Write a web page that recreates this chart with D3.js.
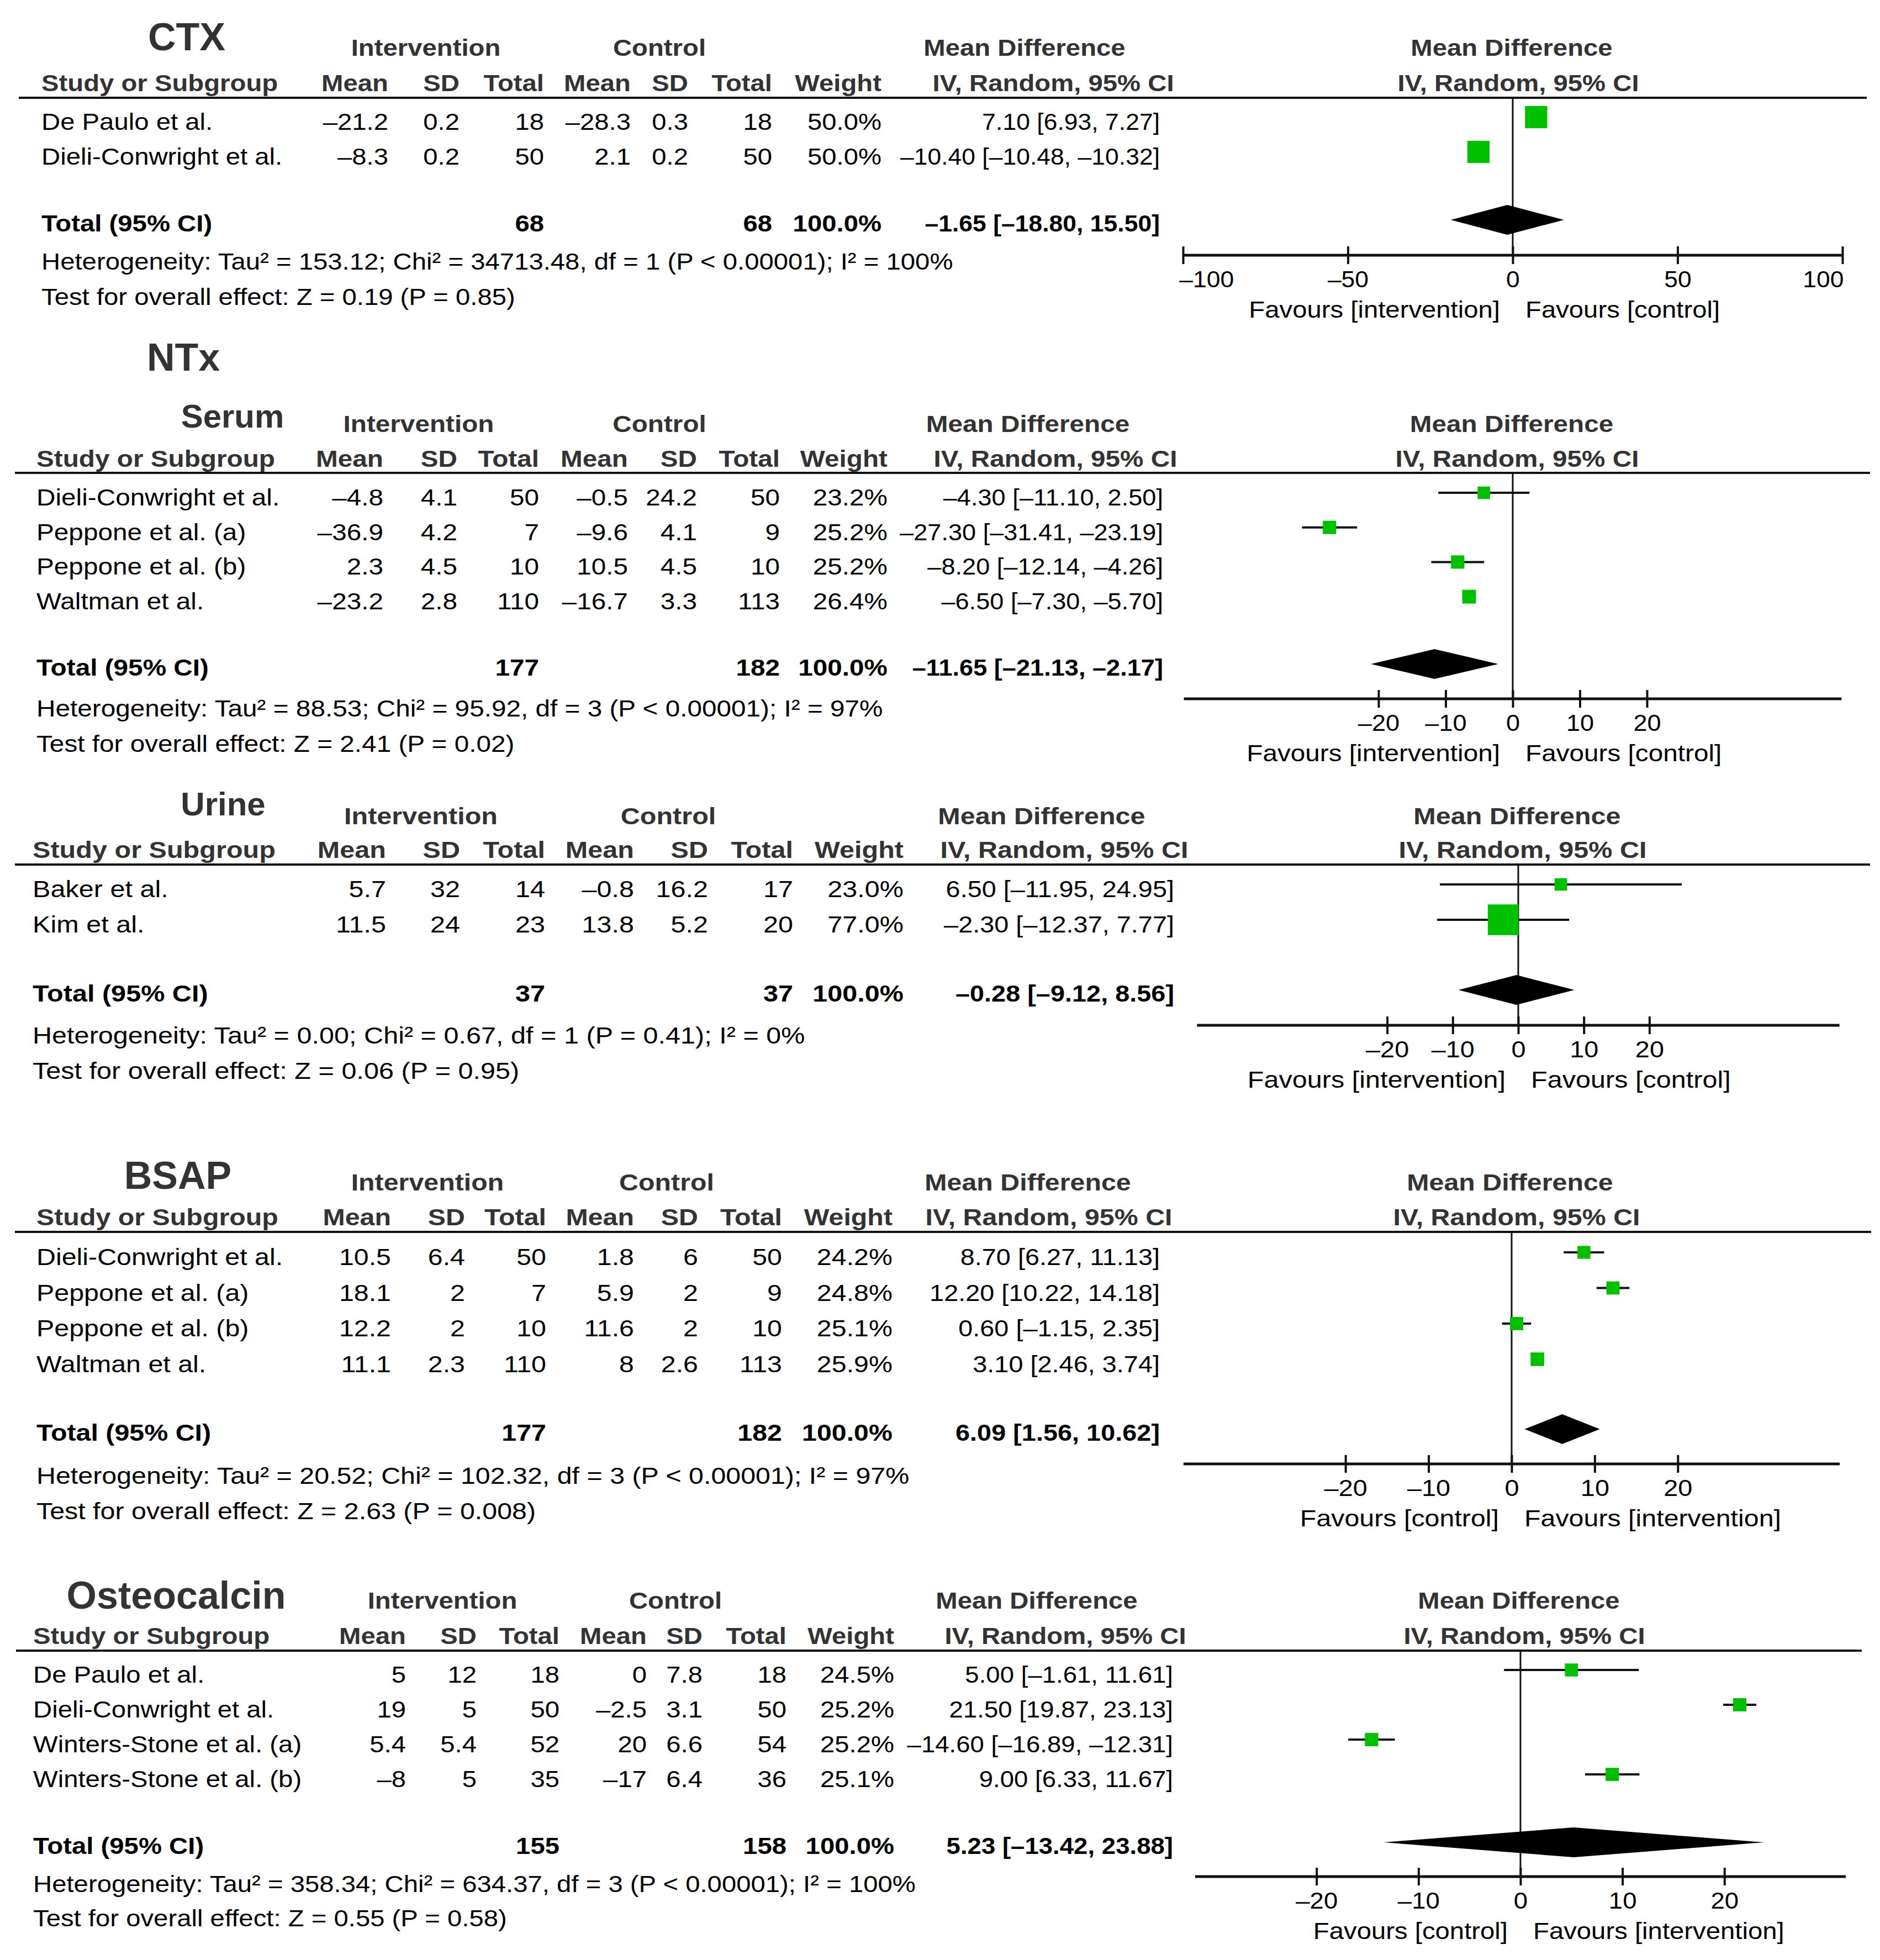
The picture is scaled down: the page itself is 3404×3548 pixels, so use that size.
<!DOCTYPE html>
<html>
<head>
<meta charset="utf-8">
<script src="https://cdn.jsdelivr.net/npm/d3@7"></script>
<style>
  body { margin: 0; background: #fff; }
  text { font-family: "Liberation Sans", Arial, sans-serif; }
</style>
</head>
<body>
<div id="chart"></div>
<script>
// ---- data ----
const ctxRows = [
  { study: 'De Paulo et al.', iMean: -21.2, iSD: 0.2, iN: 18, cMean: -28.3, cSD: 0.3, cN: 18, weight: 50.0, md: 7.10, lo: 6.93, hi: 7.27 },
  { study: 'Dieli-Conwright et al.', iMean: -8.3, iSD: 0.2, iN: 50, cMean: 2.1, cSD: 0.2, cN: 50, weight: 50.0, md: -10.40, lo: -10.48, hi: -10.32 }
]
const ctxTotal = { iN: 68, cN: 68, md: -1.65, lo: -18.80, hi: 15.50 }
const ctxStats = { tau2: '153.12', chi2: '34713.48', df: 1, p: '< 0.00001', i2: '100%', z: '0.19', pz: '0.85' }

const serumRows = [
  { study: 'Dieli-Conwright et al.', iMean: -4.8, iSD: 4.1, iN: 50, cMean: -0.5, cSD: 24.2, cN: 50, weight: 23.2, md: -4.30, lo: -11.10, hi: 2.50 },
  { study: 'Peppone et al. (a)', iMean: -36.9, iSD: 4.2, iN: 7, cMean: -9.6, cSD: 4.1, cN: 9, weight: 25.2, md: -27.30, lo: -31.41, hi: -23.19 },
  { study: 'Peppone et al. (b)', iMean: 2.3, iSD: 4.5, iN: 10, cMean: 10.5, cSD: 4.5, cN: 10, weight: 25.2, md: -8.20, lo: -12.14, hi: -4.26 },
  { study: 'Waltman et al.', iMean: -23.2, iSD: 2.8, iN: 110, cMean: -16.7, cSD: 3.3, cN: 113, weight: 26.4, md: -6.50, lo: -7.30, hi: -5.70 }
]
const serumTotal = { iN: 177, cN: 182, md: -11.65, lo: -21.13, hi: -2.17 }
const serumStats = { tau2: '88.53', chi2: '95.92', df: 3, p: '< 0.00001', i2: '97%', z: '2.41', pz: '0.02' }

const urineRows = [
  { study: 'Baker et al.', iMean: 5.7, iSD: 32, iN: 14, cMean: -0.8, cSD: 16.2, cN: 17, weight: 23.0, md: 6.50, lo: -11.95, hi: 24.95 },
  { study: 'Kim et al.', iMean: 11.5, iSD: 24, iN: 23, cMean: 13.8, cSD: 5.2, cN: 20, weight: 77.0, md: -2.30, lo: -12.37, hi: 7.77 }
]
const urineTotal = { iN: 37, cN: 37, md: -0.28, lo: -9.12, hi: 8.56 }
const urineStats = { tau2: '0.00', chi2: '0.67', df: 1, p: '= 0.41', i2: '0%', z: '0.06', pz: '0.95' }

const bsapRows = [
  { study: 'Dieli-Conwright et al.', iMean: 10.5, iSD: 6.4, iN: 50, cMean: 1.8, cSD: 6, cN: 50, weight: 24.2, md: 8.70, lo: 6.27, hi: 11.13 },
  { study: 'Peppone et al. (a)', iMean: 18.1, iSD: 2, iN: 7, cMean: 5.9, cSD: 2, cN: 9, weight: 24.8, md: 12.20, lo: 10.22, hi: 14.18 },
  { study: 'Peppone et al. (b)', iMean: 12.2, iSD: 2, iN: 10, cMean: 11.6, cSD: 2, cN: 10, weight: 25.1, md: 0.60, lo: -1.15, hi: 2.35 },
  { study: 'Waltman et al.', iMean: 11.1, iSD: 2.3, iN: 110, cMean: 8, cSD: 2.6, cN: 113, weight: 25.9, md: 3.10, lo: 2.46, hi: 3.74 }
]
const bsapTotal = { iN: 177, cN: 182, md: 6.09, lo: 1.56, hi: 10.62 }
const bsapStats = { tau2: '20.52', chi2: '102.32', df: 3, p: '< 0.00001', i2: '97%', z: '2.63', pz: '0.008' }

const osteoRows = [
  { study: 'De Paulo et al.', iMean: 5, iSD: 12, iN: 18, cMean: 0, cSD: 7.8, cN: 18, weight: 24.5, md: 5.00, lo: -1.61, hi: 11.61 },
  { study: 'Dieli-Conwright et al.', iMean: 19, iSD: 5, iN: 50, cMean: -2.5, cSD: 3.1, cN: 50, weight: 25.2, md: 21.50, lo: 19.87, hi: 23.13 },
  { study: 'Winters-Stone et al. (a)', iMean: 5.4, iSD: 5.4, iN: 52, cMean: 20, cSD: 6.6, cN: 54, weight: 25.2, md: -14.60, lo: -16.89, hi: -12.31 },
  { study: 'Winters-Stone et al. (b)', iMean: -8, iSD: 5, iN: 35, cMean: -17, cSD: 6.4, cN: 36, weight: 25.1, md: 9.00, lo: 6.33, hi: 11.67 }
]
const osteoTotal = { iN: 155, cN: 158, md: 5.23, lo: -13.42, hi: 23.88 }
const osteoStats = { tau2: '358.34', chi2: '634.37', df: 3, p: '< 0.00001', i2: '100%', z: '0.55', pz: '0.58' }

const ticks100 = [-100, -50, 0, 50, 100]
const ticks20 = [-20, -10, 0, 10, 20]
const favoursIC = ['Favours [intervention]', 'Favours [control]']
const favoursCI = ['Favours [control]', 'Favours [intervention]']

// ---- layout (one block per pasted panel; each was pasted at its own scale) ----
const layouts = [
  { rows: ctxRows, total: ctxTotal, stats: ctxStats, ticks: ticks100, favours: favoursIC,
    sx: 1.10, nsx: 1.035,
    titles: [{ text: 'CTX', x: 338, y: 91, size: 70 }],
    groupY: 101, colY: 165, L: 177, lineX: [34, 3380],
    studyX: 75, cols: [703, 832, 985, 1142, 1246, 1398, 1596, 2100],
    hx: { int: 771, ctl: 1194, md: 1855, iv: 1907, pmd: 2737, piv: 2749 },
    rowY0: 212, rowStep: 63, totalY: 398, hetY: 488, testY: 552,
    axisY: 462, domain: [-100, 100], range: [2142, 3336] },
  { rows: serumRows, total: serumTotal, stats: serumStats, ticks: ticks20, favours: favoursIC,
    sx: 1.11, nsx: 1.05,
    titles: [{ text: 'NTx', x: 332, y: 671, size: 70 }, { text: 'Serum', x: 421, y: 774, size: 60 }],
    groupY: 782, colY: 845, L: 856, lineX: [27, 3386],
    studyX: 66, cols: [694, 828, 976, 1137, 1262, 1412, 1607, 2106],
    hx: { int: 758, ctl: 1194, md: 1861, iv: 1911, pmd: 2737, piv: 2747 },
    rowY0: 892, rowStep: 62.7, totalY: 1202, hetY: 1297, testY: 1361,
    axisY: 1265, domain: [-49, 49], range: [2143.6, 3334.4] },
  { rows: urineRows, total: urineTotal, stats: urineStats, ticks: ticks20, favours: favoursIC,
    sx: 1.13, nsx: 1.09,
    titles: [{ text: 'Urine', x: 404, y: 1476, size: 60 }],
    groupY: 1492, colY: 1553, L: 1565, lineX: [27, 3386],
    studyX: 59, cols: [699, 833, 987, 1148, 1282, 1436, 1636, 2126],
    hx: { int: 762, ctl: 1210, md: 1886, iv: 1927, pmd: 2747, piv: 2757 },
    rowY0: 1601, rowStep: 64, totalY: 1792, hetY: 1889, testY: 1953,
    axisY: 1856, domain: [-49, 49], range: [2167.4, 3330.6] },
  { rows: bsapRows, total: bsapTotal, stats: bsapStats, ticks: ticks20, favours: favoursCI,
    sx: 1.125, nsx: 1.09,
    titles: [{ text: 'BSAP', x: 322, y: 2152, size: 70 }],
    groupY: 2155, colY: 2218, L: 2230, lineX: [27, 3388],
    studyX: 66, cols: [708, 842, 989, 1148, 1264, 1416, 1616, 2100],
    hx: { int: 774, ctl: 1207, md: 1861, iv: 1899, pmd: 2734, piv: 2746 },
    rowY0: 2267, rowStep: 64.5, totalY: 2587, hetY: 2686, testY: 2750,
    axisY: 2650, domain: [-39.5, 39.5], range: [2142.9, 3331.1] },
  { rows: osteoRows, total: osteoTotal, stats: osteoStats, ticks: ticks20, favours: favoursCI,
    sx: 1.10, nsx: 1.06,
    titles: [{ text: 'Osteocalcin', x: 319, y: 2912, size: 70 }],
    groupY: 2912, colY: 2976, L: 2988, lineX: [29, 3371],
    studyX: 60, cols: [735, 863, 1013, 1171, 1272, 1424, 1619, 2124],
    hx: { int: 801, ctl: 1223, md: 1877, iv: 1929, pmd: 2750, piv: 2760 },
    rowY0: 3023, rowStep: 63, totalY: 3335, hetY: 3425, testY: 3487,
    axisY: 3397, domain: [-31.9, 31.9], range: [2164, 3342] }
]

const W = 3404, H = 3548
const HEAD = '#333'
const GREEN = '#00c000'

const num = v => String(v).replace('-', '\u2013')
const fix2 = v => v.toFixed(2).replace('-', '\u2013')
const ciText = d => `${fix2(d.md)} [${fix2(d.lo)}, ${fix2(d.hi)}]`

const svg = d3.select('#chart').append('svg')
  .attr('width', W).attr('height', H)
  .attr('viewBox', `0 0 ${W} ${H}`)
svg.append('rect').attr('width', W).attr('height', H).attr('fill', '#fff')

// the figure's text runs a little wider than Arial, so each label is stretched sideways
function txt(g, x, y, s, { anchor = 'start', bold = false, size = 43, fill = '#000', sx = 1.1 } = {}) {
  return g.append('text')
    .attr('transform', `translate(${x},${y}) scale(${sx},1)`)
    .attr('text-anchor', anchor)
    .attr('font-weight', bold ? 'bold' : 'normal')
    .attr('font-size', size)
    .attr('fill', fill)
    .text(s)
}

// square side grows with weight (sub-linear, like RevMan)
const boxSize = d3.scalePow().exponent(0.75).domain([0, 100]).range([0, 67.7])

function drawPanel(lay) {
  const g = svg.append('g')
  const { rows, total, stats, cols, hx, sx, nsx } = lay

  lay.titles.forEach(t => txt(g, t.x, t.y, t.text, { anchor: 'middle', bold: true, size: t.size, fill: HEAD, sx: 1 }))

  const head = (x, y, s, anchor = 'middle') => txt(g, x, y, s, { anchor, bold: true, fill: HEAD, sx })
  head(hx.int, lay.groupY, 'Intervention')
  head(hx.ctl, lay.groupY, 'Control')
  head(hx.md, lay.groupY, 'Mean Difference')
  head(hx.pmd, lay.groupY, 'Mean Difference')
  head(lay.studyX, lay.colY, 'Study or Subgroup', 'start')
  ;['Mean', 'SD', 'Total', 'Mean', 'SD', 'Total', 'Weight'].forEach((s, j) => head(cols[j], lay.colY, s, 'end'))
  head(hx.iv, lay.colY, 'IV, Random, 95% CI')
  head(hx.piv, lay.colY, 'IV, Random, 95% CI')

  g.append('line')
    .attr('x1', lay.lineX[0]).attr('x2', lay.lineX[1])
    .attr('y1', lay.L).attr('y2', lay.L)
    .attr('stroke', '#111').attr('stroke-width', 4)

  const rowY = i => lay.rowY0 + i * lay.rowStep

  rows.forEach((r, i) => {
    const ty = rowY(i) + 23
    txt(g, lay.studyX, ty, r.study, { sx })
    const vals = [num(r.iMean), num(r.iSD), r.iN, num(r.cMean), num(r.cSD), r.cN, r.weight.toFixed(1) + '%', ciText(r)]
    vals.forEach((v, j) => txt(g, cols[j], ty, v, { anchor: 'end', sx: j === 7 ? nsx : sx }))
  })

  const tty = lay.totalY + 21
  txt(g, lay.studyX, tty, 'Total (95% CI)', { bold: true, sx })
  txt(g, cols[2], tty, total.iN, { anchor: 'end', bold: true, sx })
  txt(g, cols[5], tty, total.cN, { anchor: 'end', bold: true, sx })
  txt(g, cols[6], tty, '100.0%', { anchor: 'end', bold: true, sx })
  txt(g, cols[7], tty, ciText(total), { anchor: 'end', bold: true, sx: nsx })

  txt(g, lay.studyX, lay.hetY,
    `Heterogeneity: Tau\u00b2 = ${stats.tau2}; Chi\u00b2 = ${stats.chi2}, df = ${stats.df} (P ${stats.p}); I\u00b2 = ${stats.i2}`, { sx })
  txt(g, lay.studyX, lay.testY, `Test for overall effect: Z = ${stats.z} (P = ${stats.pz})`, { sx })

  // forest plot
  const x = d3.scaleLinear().domain(lay.domain).range(lay.range)

  g.append('line')
    .attr('x1', x(0)).attr('x2', x(0))
    .attr('y1', lay.L).attr('y2', lay.axisY)
    .attr('stroke', '#111').attr('stroke-width', 3)

  g.selectAll('.ci').data(rows).join('line')
    .attr('x1', d => x(d.lo)).attr('x2', d => x(d.hi))
    .attr('y1', (d, i) => rowY(i)).attr('y2', (d, i) => rowY(i))
    .attr('stroke', '#111').attr('stroke-width', 4)

  g.selectAll('.box').data(rows).join('rect')
    .attr('x', d => x(d.md) - boxSize(d.weight) / 2)
    .attr('y', (d, i) => rowY(i) - boxSize(d.weight) / 2)
    .attr('width', d => boxSize(d.weight))
    .attr('height', d => boxSize(d.weight))
    .attr('fill', GREEN)

  const dh = 27
  g.append('path')
    .attr('d', `M${x(total.lo)},${lay.totalY} L${x(total.md)},${lay.totalY - dh} L${x(total.hi)},${lay.totalY} L${x(total.md)},${lay.totalY + dh} Z`)
    .attr('fill', '#000')

  const [d0, d1] = lay.domain
  const axis = g.append('g')
    .attr('transform', `translate(0,${lay.axisY})`)
    .call(d3.axisBottom(x).tickValues(lay.ticks).tickSizeOuter(0).tickSize(16).tickFormat(num))
  axis.select('.domain')
    .attr('d', `M${lay.range[0]},0H${lay.range[1]}`)
    .attr('stroke', '#111').attr('stroke-width', 5)
  axis.selectAll('.tick line')
    .attr('y1', -16).attr('y2', 16)
    .attr('stroke', '#111').attr('stroke-width', 4)
  // end labels are kept inside the axis span, the rest sit centred on their tick
  axis.selectAll('.tick text')
    .attr('y', 58).attr('dy', null)
    .attr('x', d => d === d0 ? -7 : d === d1 ? 2 : 0)
    .attr('text-anchor', d => d === d0 ? 'start' : d === d1 ? 'end' : 'middle')
    .attr('transform', `scale(${nsx},1)`)
    .attr('font-size', 43).attr('fill', '#000')
    .attr('font-family', '"Liberation Sans", Arial, sans-serif')

  const fy = lay.axisY + 113
  txt(g, x(0) - 23, fy, lay.favours[0], { anchor: 'end', sx })
  txt(g, x(0) + 23, fy, lay.favours[1], { sx })
}

layouts.forEach(drawPanel)
</script>
</body>
</html>
